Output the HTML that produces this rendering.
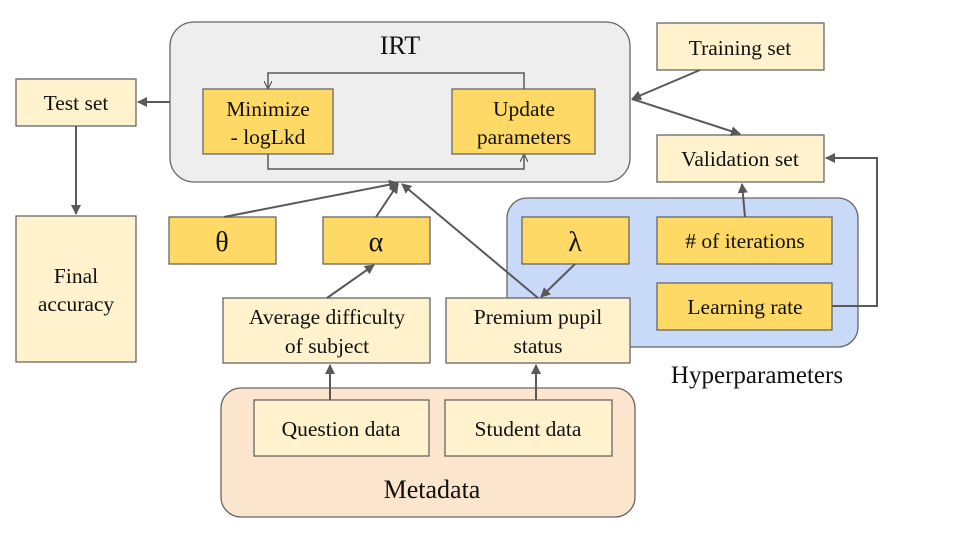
<!DOCTYPE html>
<html><head><meta charset="utf-8"><style>body{margin:0;background:#fff}svg{display:block}text{font-family:"Liberation Serif",serif;fill:#111}</style></head>
<body>
<svg width="960" height="540" viewBox="0 0 960 540" xmlns="http://www.w3.org/2000/svg">
<defs><marker id="a" markerWidth="10" markerHeight="10" refX="9" refY="5" orient="auto" markerUnits="userSpaceOnUse"><path d="M0,0 L10,5 L0,10 z" fill="#595959"/></marker>
<marker id="s" markerWidth="8" markerHeight="8" refX="7" refY="4" orient="auto" markerUnits="userSpaceOnUse"><path d="M0,0 L8,4 L0,8" fill="none" stroke="#595959" stroke-width="1.2"/></marker></defs>
<g stroke="#666" stroke-width="1.3">
<rect x="170" y="22" width="460" height="160" rx="24" fill="#eeeeee"/>
<rect x="507" y="198" width="351" height="149" rx="20" fill="#c9daf8"/>
<rect x="221" y="388" width="414" height="129" rx="20" fill="#fce5cd"/>
<rect x="203" y="89" width="130" height="65" fill="#ffd966"/>
<rect x="452" y="89" width="143" height="65" fill="#ffd966"/>
<rect x="16" y="79" width="120" height="47" fill="#fff2cc"/>
<rect x="16" y="216" width="120" height="146" fill="#fff2cc"/>
<rect x="657" y="23" width="167" height="47" fill="#fff2cc"/>
<rect x="657" y="135" width="167" height="47" fill="#fff2cc"/>
<rect x="522" y="217" width="107" height="47" fill="#ffd966"/>
<rect x="657" y="217" width="175" height="47" fill="#ffd966"/>
<rect x="657" y="283" width="175" height="47" fill="#ffd966"/>
<rect x="169" y="217" width="107" height="47" fill="#ffd966"/>
<rect x="323" y="217" width="107" height="47" fill="#ffd966"/>
<rect x="223" y="298" width="207" height="65" fill="#fff2cc"/>
<rect x="446" y="298" width="184" height="65" fill="#fff2cc"/>
<rect x="254" y="400" width="175" height="56" fill="#fff2cc"/>
<rect x="445" y="400" width="167" height="56" fill="#fff2cc"/>
</g>
<g stroke="#595959" stroke-width="2" fill="none">
<path d="M524,89 V73 H268 V88" marker-end="url(#s)" stroke-width="1.5"/>
<path d="M268,154 V169 H524 V155" marker-end="url(#s)" stroke-width="1.5"/>
<path d="M170,102 H138" marker-end="url(#a)"/>
<path d="M76,126 V214" marker-end="url(#a)"/>
<path d="M700,70 L632,99" marker-end="url(#a)"/>
<path d="M632,99 L740,134" marker-end="url(#a)"/>
<path d="M745,217 L742,184" marker-end="url(#a)"/>
<path d="M832,306 H877 V158 H826" marker-end="url(#a)"/>
<path d="M224,217 L398,183" marker-end="url(#a)"/>
<path d="M376,217 L398,184" marker-end="url(#a)"/>
<path d="M538,298 L402,184" marker-end="url(#a)"/>
<path d="M575,264 L541,297" marker-end="url(#a)"/>
<path d="M327,298 L374,265" marker-end="url(#a)"/>
<path d="M330,400 V365" marker-end="url(#a)"/>
<path d="M536,400 V365" marker-end="url(#a)"/>
</g>
<g font-size="21.5" text-anchor="middle">
<text x="400" y="54" font-size="26">IRT</text>
<text x="268" y="116">Minimize</text><text x="268" y="144">- logLkd</text>
<text x="524" y="116">Update</text><text x="524" y="144">parameters</text>
<text x="76" y="110">Test set</text>
<text x="76" y="283">Final</text><text x="76" y="311">accuracy</text>
<text x="740" y="55">Training set</text>
<text x="740" y="166">Validation set</text>
<text x="575" y="251" font-size="28">λ</text>
<text x="745" y="248"># of iterations</text>
<text x="745" y="314">Learning rate</text>
<text x="222" y="251" font-size="28">θ</text>
<text x="376" y="251" font-size="28">α</text>
<text x="327" y="324">Average difficulty</text><text x="327" y="353">of subject</text>
<text x="538" y="324">Premium pupil</text><text x="538" y="353">status</text>
<text x="341" y="436">Question data</text>
<text x="528" y="436">Student data</text>
<text x="432" y="498" font-size="26">Metadata</text>
<text x="757" y="383" font-size="25">Hyperparameters</text>
</g>
</svg>
</body></html>
